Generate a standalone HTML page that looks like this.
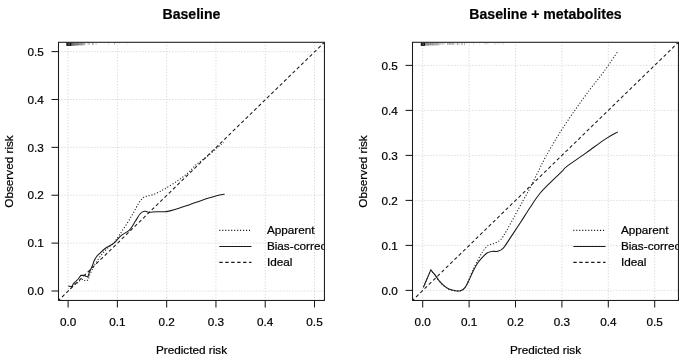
<!DOCTYPE html>
<html><head><meta charset="utf-8"><title>Calibration</title>
<style>
html,body{margin:0;padding:0;background:#fff;}
body{width:685px;height:358px;overflow:hidden;font-family:"Liberation Sans",sans-serif;}
svg{display:block;filter:grayscale(1);}
.t{font-family:"Liberation Sans",sans-serif;font-size:11.75px;fill:#000;stroke:#000;stroke-width:0.22;}
.title{font-family:"Liberation Sans",sans-serif;font-size:14.1px;font-weight:bold;fill:#000;stroke:#000;stroke-width:0.2;}
.grid{stroke:#c6c6c6;stroke-width:0.95;stroke-dasharray:0.9 2.1;fill:none;}
.box{fill:none;stroke:#1a1a1a;stroke-width:1.05;}
.tick{stroke:#1a1a1a;stroke-width:1.05;}
.ideal{stroke:#1a1a1a;stroke-width:1.06;stroke-dasharray:3.4 2.55;fill:none;}
.app{stroke:#1a1a1a;stroke-width:1.06;stroke-dasharray:1.1 1.87;fill:none;}
.bias{stroke:#1a1a1a;stroke-width:1.06;fill:none;stroke-linejoin:round;}
</style></head>
<body>
<svg width="685" height="358" viewBox="0 0 685 358">
<rect x="0" y="0" width="685" height="358" fill="#fff"/>
<line x1="68.10" y1="42.3" x2="68.10" y2="300.45" class="grid"/>
<line x1="58.5" y1="291.00" x2="324.45" y2="291.00" class="grid"/>
<line x1="117.38" y1="42.3" x2="117.38" y2="300.45" class="grid"/>
<line x1="58.5" y1="243.12" x2="324.45" y2="243.12" class="grid"/>
<line x1="166.66" y1="42.3" x2="166.66" y2="300.45" class="grid"/>
<line x1="58.5" y1="195.24" x2="324.45" y2="195.24" class="grid"/>
<line x1="215.94" y1="42.3" x2="215.94" y2="300.45" class="grid"/>
<line x1="58.5" y1="147.36" x2="324.45" y2="147.36" class="grid"/>
<line x1="265.22" y1="42.3" x2="265.22" y2="300.45" class="grid"/>
<line x1="58.5" y1="99.48" x2="324.45" y2="99.48" class="grid"/>
<line x1="314.50" y1="42.3" x2="314.50" y2="300.45" class="grid"/>
<line x1="58.5" y1="51.60" x2="324.45" y2="51.60" class="grid"/>
<clipPath id="c58"><rect x="58.5" y="42.3" width="265.95" height="258.15"/></clipPath>
<g clip-path="url(#c58)">
<line x1="58.5" y1="300.45" x2="324.45" y2="42.3" class="ideal" stroke-dashoffset="1.0"/>
<path d="M70.40,288.80 L72.50,286.50 L74.30,284.30 L77.60,282.70 L79.90,280.40 L82.70,279.30 L85.50,281.00 L88.30,279.90 L89.40,275.40 L91.00,272.10 L93.00,268.00 L95.10,263.90 L95.10,263.90 C96.02,262.57 98.57,258.47 100.60,255.90 C102.63,253.33 105.07,250.73 107.30,248.50 C109.53,246.27 111.95,244.80 114.00,242.50 C116.05,240.20 117.55,237.68 119.60,234.70 C121.65,231.72 124.07,228.13 126.30,224.60 C128.53,221.07 130.95,217.03 133.00,213.50 C135.05,209.97 136.92,206.02 138.60,203.40 C140.28,200.78 141.62,199.03 143.10,197.80 C144.58,196.57 145.92,196.50 147.50,196.00 C149.08,195.50 150.77,195.43 152.60,194.80 C154.43,194.17 156.42,193.22 158.50,192.20 C160.58,191.18 162.13,190.45 165.10,188.70 C168.07,186.95 172.57,184.27 176.30,181.70 C180.03,179.13 184.23,176.10 187.50,173.30 C190.77,170.50 192.65,167.70 195.90,164.90 C199.15,162.10 203.28,159.52 207.00,156.50 C210.72,153.48 215.40,149.12 218.20,146.80 C221.00,144.48 222.87,143.30 223.80,142.60" class="app"/>
<path d="M68.20,286.00 L71.70,286.80 L73.50,283.40 L75.60,281.70 L78.20,279.00 L80.80,275.40 L84.30,275.20 L86.00,276.30 L87.90,277.10 L89.40,272.00 L92.20,266.30 L94.00,261.00 L94.00,261.00 C94.42,260.30 95.58,258.03 96.50,256.80 C97.42,255.57 98.07,254.98 99.50,253.60 C100.93,252.22 102.68,250.23 105.10,248.50 C107.52,246.77 111.38,245.32 114.00,243.20 C116.62,241.08 118.18,238.03 120.80,235.80 C123.42,233.57 127.28,232.22 129.70,229.80 C132.12,227.38 133.58,223.93 135.30,221.30 C137.02,218.67 138.52,215.68 140.00,214.00 C141.48,212.32 142.77,211.50 144.20,211.20 C145.63,210.90 146.50,212.10 148.60,212.20 C150.70,212.30 153.82,211.90 156.80,211.80 C159.78,211.70 163.25,212.05 166.50,211.60 C169.75,211.15 172.57,210.22 176.30,209.10 C180.03,207.98 184.70,206.35 188.90,204.90 C193.10,203.45 197.55,201.72 201.50,200.40 C205.45,199.08 209.58,197.88 212.60,197.00 C215.62,196.12 217.60,195.57 219.60,195.10 C221.60,194.63 223.77,194.35 224.60,194.20" class="bias"/>
<rect x="66.30" y="42.5" width="5.30" height="3.4" fill="#000" opacity="0.93"/>
<rect x="67.90" y="43.6" width="1.85" height="0.9" fill="#fff" opacity="0.55"/>
<rect x="71.60" y="42.7" width="0.55" height="3.03" fill="#000" opacity="0.68"/>
<rect x="72.15" y="42.7" width="0.55" height="3.05" fill="#000" opacity="0.79"/>
<rect x="72.70" y="42.7" width="0.55" height="3.16" fill="#000" opacity="0.57"/>
<rect x="73.25" y="42.7" width="0.55" height="3.23" fill="#000" opacity="0.63"/>
<rect x="73.80" y="42.7" width="0.55" height="2.90" fill="#000" opacity="0.80"/>
<rect x="74.35" y="42.7" width="0.55" height="2.97" fill="#000" opacity="0.57"/>
<rect x="74.90" y="42.7" width="0.55" height="3.01" fill="#000" opacity="0.66"/>
<rect x="75.45" y="42.7" width="0.55" height="3.00" fill="#000" opacity="0.51"/>
<rect x="76.00" y="42.7" width="0.55" height="2.54" fill="#000" opacity="0.56"/>
<rect x="76.55" y="42.7" width="0.55" height="2.93" fill="#000" opacity="0.58"/>
<rect x="77.10" y="42.7" width="0.55" height="3.03" fill="#000" opacity="0.62"/>
<rect x="77.65" y="42.7" width="0.55" height="2.72" fill="#000" opacity="0.62"/>
<rect x="78.20" y="42.7" width="0.55" height="2.49" fill="#000" opacity="0.62"/>
<rect x="78.75" y="42.7" width="0.55" height="2.99" fill="#000" opacity="0.44"/>
<rect x="79.30" y="42.7" width="0.55" height="2.57" fill="#000" opacity="0.51"/>
<rect x="79.85" y="42.7" width="0.55" height="2.58" fill="#000" opacity="0.44"/>
<rect x="80.40" y="42.7" width="0.55" height="2.89" fill="#000" opacity="0.46"/>
<rect x="80.95" y="42.7" width="0.55" height="2.84" fill="#000" opacity="0.51"/>
<rect x="81.50" y="42.7" width="0.55" height="2.40" fill="#000" opacity="0.43"/>
<rect x="82.05" y="42.7" width="0.55" height="2.82" fill="#000" opacity="0.46"/>
<rect x="82.60" y="42.7" width="0.55" height="2.38" fill="#000" opacity="0.40"/>
<rect x="83.15" y="42.7" width="0.55" height="2.41" fill="#000" opacity="0.35"/>
<rect x="83.70" y="42.7" width="0.55" height="2.81" fill="#000" opacity="0.37"/>
<rect x="84.25" y="42.7" width="0.55" height="2.09" fill="#000" opacity="0.45"/>
<rect x="85.35" y="42.7" width="0.55" height="2.34" fill="#000" opacity="0.26"/>
<rect x="87.55" y="42.7" width="0.55" height="1.84" fill="#000" opacity="0.26"/>
<rect x="88.10" y="42.7" width="0.55" height="1.79" fill="#000" opacity="0.40"/>
<rect x="89.20" y="42.7" width="0.55" height="2.05" fill="#000" opacity="0.47"/>
<rect x="91.95" y="42.7" width="0.55" height="2.26" fill="#000" opacity="0.38"/>
<rect x="92.50" y="42.7" width="0.55" height="2.30" fill="#000" opacity="0.35"/>
<rect x="93.05" y="42.7" width="0.55" height="2.36" fill="#000" opacity="0.40"/>
<rect x="95.80" y="42.7" width="0.55" height="1.98" fill="#000" opacity="0.40"/>
<rect x="108.45" y="42.7" width="0.55" height="2.01" fill="#000" opacity="0.21"/>
<rect x="113.95" y="42.7" width="0.55" height="2.02" fill="#000" opacity="0.31"/>
<rect x="114.50" y="42.7" width="0.55" height="2.06" fill="#000" opacity="0.28"/>
<rect x="116.15" y="42.7" width="0.55" height="1.25" fill="#000" opacity="0.15"/>
<rect x="118.90" y="42.7" width="0.55" height="1.53" fill="#000" opacity="0.19"/>
<rect x="126.60" y="42.7" width="0.55" height="1.79" fill="#000" opacity="0.17"/>
<line x1="219.30" y1="230.4" x2="251.50" y2="230.4" class="app"/>
<line x1="219.30" y1="246.45" x2="251.50" y2="246.45" class="bias"/>
<line x1="219.30" y1="262.4" x2="251.50" y2="262.4" class="ideal"/>
<text x="266.90" y="234.15" class="t">Apparent</text>
<text x="266.90" y="250.25" class="t">Bias-corrected</text>
<text x="266.90" y="266.35" class="t">Ideal</text>
</g>
<rect x="58.5" y="42.3" width="265.95" height="258.15" class="box"/>
<line x1="68.10" y1="300.45" x2="68.10" y2="307.45" class="tick"/>
<text x="68.10" y="326.4" class="t" text-anchor="middle">0.0</text>
<line x1="51.5" y1="291.00" x2="58.5" y2="291.00" class="tick"/>
<text x="43.90" y="295.15" class="t" text-anchor="end">0.0</text>
<line x1="117.38" y1="300.45" x2="117.38" y2="307.45" class="tick"/>
<text x="117.38" y="326.4" class="t" text-anchor="middle">0.1</text>
<line x1="51.5" y1="243.12" x2="58.5" y2="243.12" class="tick"/>
<text x="43.90" y="247.27" class="t" text-anchor="end">0.1</text>
<line x1="166.66" y1="300.45" x2="166.66" y2="307.45" class="tick"/>
<text x="166.66" y="326.4" class="t" text-anchor="middle">0.2</text>
<line x1="51.5" y1="195.24" x2="58.5" y2="195.24" class="tick"/>
<text x="43.90" y="199.39" class="t" text-anchor="end">0.2</text>
<line x1="215.94" y1="300.45" x2="215.94" y2="307.45" class="tick"/>
<text x="215.94" y="326.4" class="t" text-anchor="middle">0.3</text>
<line x1="51.5" y1="147.36" x2="58.5" y2="147.36" class="tick"/>
<text x="43.90" y="151.51" class="t" text-anchor="end">0.3</text>
<line x1="265.22" y1="300.45" x2="265.22" y2="307.45" class="tick"/>
<text x="265.22" y="326.4" class="t" text-anchor="middle">0.4</text>
<line x1="51.5" y1="99.48" x2="58.5" y2="99.48" class="tick"/>
<text x="43.90" y="103.63" class="t" text-anchor="end">0.4</text>
<line x1="314.50" y1="300.45" x2="314.50" y2="307.45" class="tick"/>
<text x="314.50" y="326.4" class="t" text-anchor="middle">0.5</text>
<line x1="51.5" y1="51.60" x2="58.5" y2="51.60" class="tick"/>
<text x="43.90" y="55.75" class="t" text-anchor="end">0.5</text>
<text x="191.47" y="354.4" class="t" text-anchor="middle">Predicted risk</text>
<text transform="translate(13.30,171.5) rotate(-90)" class="t" text-anchor="middle">Observed risk</text>
<text x="191.47" y="18.7" class="title" text-anchor="middle">Baseline</text>
<line x1="422.70" y1="42.3" x2="422.70" y2="300.45" class="grid"/>
<line x1="412.5" y1="290.40" x2="678.45" y2="290.40" class="grid"/>
<line x1="469.10" y1="42.3" x2="469.10" y2="300.45" class="grid"/>
<line x1="412.5" y1="245.40" x2="678.45" y2="245.40" class="grid"/>
<line x1="515.50" y1="42.3" x2="515.50" y2="300.45" class="grid"/>
<line x1="412.5" y1="200.40" x2="678.45" y2="200.40" class="grid"/>
<line x1="561.90" y1="42.3" x2="561.90" y2="300.45" class="grid"/>
<line x1="412.5" y1="155.40" x2="678.45" y2="155.40" class="grid"/>
<line x1="608.30" y1="42.3" x2="608.30" y2="300.45" class="grid"/>
<line x1="412.5" y1="110.40" x2="678.45" y2="110.40" class="grid"/>
<line x1="654.70" y1="42.3" x2="654.70" y2="300.45" class="grid"/>
<line x1="412.5" y1="65.40" x2="678.45" y2="65.40" class="grid"/>
<clipPath id="c412"><rect x="412.5" y="42.3" width="265.95000000000005" height="258.15"/></clipPath>
<g clip-path="url(#c412)">
<line x1="412.5" y1="300.45" x2="678.45" y2="42.3" class="ideal" stroke-dashoffset="1.0"/>
<path d="M423.40,287.30 L427.10,278.80 L430.80,270.20 L430.80,270.20 C431.43,270.93 433.27,272.88 434.60,274.60 C435.93,276.32 437.25,278.63 438.80,280.50 C440.35,282.37 442.22,284.35 443.90,285.80 C445.58,287.25 446.95,288.35 448.90,289.20 C450.85,290.05 453.65,290.65 455.60,290.90 C457.55,291.15 459.07,291.25 460.60,290.70 C462.13,290.15 463.53,289.18 464.80,287.60 C466.07,286.02 466.93,283.97 468.20,281.20 C469.47,278.43 470.87,274.37 472.40,271.00 C473.93,267.63 475.70,264.20 477.40,261.00 C479.10,257.80 480.80,254.40 482.60,251.80 C484.40,249.20 486.12,246.87 488.20,245.40 C490.28,243.93 493.02,243.97 495.10,243.00 C497.18,242.03 498.83,241.57 500.70,239.60 C502.57,237.63 503.97,235.15 506.30,231.20 C508.63,227.25 511.90,221.02 514.70,215.90 C517.50,210.78 520.53,205.17 523.10,200.50 C525.67,195.83 527.78,192.32 530.10,187.90 C532.42,183.48 534.45,179.10 537.00,174.00 C539.55,168.90 541.72,163.98 545.40,157.30 C549.08,150.62 554.20,141.72 559.10,133.90 C564.00,126.08 569.58,117.90 574.80,110.40 C580.02,102.90 585.52,95.42 590.40,88.90 C595.28,82.38 599.53,77.55 604.10,71.30 C608.67,65.05 615.52,54.72 617.80,51.40" class="app"/>
<path d="M423.40,287.30 L427.10,278.60 L430.80,269.90 L430.80,269.90 C431.43,270.65 433.27,272.67 434.60,274.40 C435.93,276.13 437.25,278.43 438.80,280.30 C440.35,282.17 442.22,284.15 443.90,285.60 C445.58,287.05 446.95,288.15 448.90,289.00 C450.85,289.85 453.65,290.42 455.60,290.70 C457.55,290.98 459.07,291.18 460.60,290.70 C462.13,290.22 463.53,289.27 464.80,287.80 C466.07,286.33 466.93,284.42 468.20,281.90 C469.47,279.38 470.87,275.77 472.40,272.70 C473.93,269.63 475.73,266.05 477.40,263.50 C479.07,260.95 480.80,259.15 482.40,257.40 C484.00,255.65 485.48,254.00 487.00,253.00 C488.52,252.00 489.68,251.70 491.50,251.40 C493.32,251.10 495.90,251.80 497.90,251.20 C499.90,250.60 501.17,250.43 503.50,247.80 C505.83,245.17 509.10,239.57 511.90,235.40 C514.70,231.23 517.27,227.45 520.30,222.80 C523.33,218.15 526.85,212.38 530.10,207.50 C533.35,202.62 536.32,197.78 539.80,193.50 C543.28,189.22 547.27,185.52 551.00,181.80 C554.73,178.08 559.55,173.78 562.20,171.20 C564.85,168.62 562.85,169.40 566.90,166.30 C570.95,163.20 579.98,157.22 586.50,152.60 C593.02,147.98 600.78,142.05 606.00,138.60 C611.22,135.15 615.83,133.02 617.80,131.90" class="bias"/>
<rect x="420.80" y="42.5" width="4.20" height="3.4" fill="#000" opacity="0.93"/>
<rect x="422.40" y="43.6" width="1.47" height="0.9" fill="#fff" opacity="0.55"/>
<rect x="425.00" y="42.7" width="0.55" height="2.79" fill="#000" opacity="0.54"/>
<rect x="425.55" y="42.7" width="0.55" height="3.00" fill="#000" opacity="0.46"/>
<rect x="426.10" y="42.7" width="0.55" height="2.97" fill="#000" opacity="0.45"/>
<rect x="426.65" y="42.7" width="0.55" height="2.69" fill="#000" opacity="0.53"/>
<rect x="427.20" y="42.7" width="0.55" height="3.13" fill="#000" opacity="0.52"/>
<rect x="427.75" y="42.7" width="0.55" height="2.99" fill="#000" opacity="0.46"/>
<rect x="428.30" y="42.7" width="0.55" height="2.83" fill="#000" opacity="0.53"/>
<rect x="428.85" y="42.7" width="0.55" height="3.09" fill="#000" opacity="0.40"/>
<rect x="429.40" y="42.7" width="0.55" height="2.63" fill="#000" opacity="0.41"/>
<rect x="429.95" y="42.7" width="0.55" height="2.65" fill="#000" opacity="0.54"/>
<rect x="430.50" y="42.7" width="0.55" height="2.75" fill="#000" opacity="0.49"/>
<rect x="431.05" y="42.7" width="0.55" height="2.55" fill="#000" opacity="0.36"/>
<rect x="431.60" y="42.7" width="0.55" height="2.75" fill="#000" opacity="0.47"/>
<rect x="432.15" y="42.7" width="0.55" height="2.75" fill="#000" opacity="0.44"/>
<rect x="432.70" y="42.7" width="0.55" height="2.88" fill="#000" opacity="0.47"/>
<rect x="433.25" y="42.7" width="0.55" height="2.76" fill="#000" opacity="0.41"/>
<rect x="433.80" y="42.7" width="0.55" height="2.60" fill="#000" opacity="0.43"/>
<rect x="434.35" y="42.7" width="0.55" height="2.66" fill="#000" opacity="0.31"/>
<rect x="434.90" y="42.7" width="0.55" height="2.68" fill="#000" opacity="0.31"/>
<rect x="435.45" y="42.7" width="0.55" height="2.83" fill="#000" opacity="0.38"/>
<rect x="436.00" y="42.7" width="0.55" height="2.54" fill="#000" opacity="0.40"/>
<rect x="436.55" y="42.7" width="0.55" height="2.69" fill="#000" opacity="0.34"/>
<rect x="437.10" y="42.7" width="0.55" height="2.89" fill="#000" opacity="0.37"/>
<rect x="437.65" y="42.7" width="0.55" height="2.34" fill="#000" opacity="0.33"/>
<rect x="438.20" y="42.7" width="0.55" height="2.88" fill="#000" opacity="0.31"/>
<rect x="438.75" y="42.7" width="0.55" height="2.50" fill="#000" opacity="0.25"/>
<rect x="439.30" y="42.7" width="0.55" height="2.53" fill="#000" opacity="0.21"/>
<rect x="439.85" y="42.7" width="0.55" height="2.27" fill="#000" opacity="0.21"/>
<rect x="440.40" y="42.7" width="0.55" height="2.37" fill="#000" opacity="0.20"/>
<rect x="440.95" y="42.7" width="0.55" height="2.25" fill="#000" opacity="0.27"/>
<rect x="442.05" y="42.7" width="0.55" height="1.93" fill="#000" opacity="0.47"/>
<rect x="443.15" y="42.7" width="0.55" height="1.81" fill="#000" opacity="0.29"/>
<rect x="444.25" y="42.7" width="0.55" height="1.60" fill="#000" opacity="0.32"/>
<rect x="447.00" y="42.7" width="0.55" height="2.08" fill="#000" opacity="0.35"/>
<rect x="447.55" y="42.7" width="0.55" height="1.67" fill="#000" opacity="0.41"/>
<rect x="448.10" y="42.7" width="0.55" height="1.79" fill="#000" opacity="0.30"/>
<rect x="448.65" y="42.7" width="0.55" height="1.60" fill="#000" opacity="0.26"/>
<rect x="449.20" y="42.7" width="0.55" height="2.04" fill="#000" opacity="0.28"/>
<rect x="449.75" y="42.7" width="0.55" height="2.34" fill="#000" opacity="0.47"/>
<rect x="450.30" y="42.7" width="0.55" height="2.02" fill="#000" opacity="0.31"/>
<rect x="451.40" y="42.7" width="0.55" height="2.18" fill="#000" opacity="0.37"/>
<rect x="451.95" y="42.7" width="0.55" height="2.01" fill="#000" opacity="0.28"/>
<rect x="452.50" y="42.7" width="0.55" height="1.79" fill="#000" opacity="0.46"/>
<rect x="453.05" y="42.7" width="0.55" height="2.23" fill="#000" opacity="0.49"/>
<rect x="454.70" y="42.7" width="0.55" height="2.04" fill="#000" opacity="0.32"/>
<rect x="456.90" y="42.7" width="0.55" height="2.49" fill="#000" opacity="0.45"/>
<rect x="457.45" y="42.7" width="0.55" height="2.03" fill="#000" opacity="0.38"/>
<rect x="458.00" y="42.7" width="0.55" height="1.94" fill="#000" opacity="0.26"/>
<rect x="459.65" y="42.7" width="0.55" height="1.86" fill="#000" opacity="0.34"/>
<rect x="461.30" y="42.7" width="0.55" height="2.56" fill="#000" opacity="0.41"/>
<rect x="462.40" y="42.7" width="0.55" height="2.17" fill="#000" opacity="0.44"/>
<rect x="464.05" y="42.7" width="0.55" height="2.47" fill="#000" opacity="0.49"/>
<rect x="466.25" y="42.7" width="0.55" height="1.33" fill="#000" opacity="0.26"/>
<rect x="469.00" y="42.7" width="0.55" height="1.62" fill="#000" opacity="0.20"/>
<rect x="473.40" y="42.7" width="0.55" height="1.98" fill="#000" opacity="0.26"/>
<rect x="478.90" y="42.7" width="0.55" height="1.44" fill="#000" opacity="0.16"/>
<rect x="484.40" y="42.7" width="0.55" height="1.71" fill="#000" opacity="0.27"/>
<rect x="485.50" y="42.7" width="0.55" height="1.47" fill="#000" opacity="0.17"/>
<rect x="486.05" y="42.7" width="0.55" height="1.47" fill="#000" opacity="0.31"/>
<rect x="487.70" y="42.7" width="0.55" height="1.90" fill="#000" opacity="0.26"/>
<rect x="493.75" y="42.7" width="0.55" height="1.45" fill="#000" opacity="0.15"/>
<rect x="494.85" y="42.7" width="0.55" height="2.13" fill="#000" opacity="0.24"/>
<rect x="497.60" y="42.7" width="0.55" height="1.55" fill="#000" opacity="0.23"/>
<rect x="498.70" y="42.7" width="0.55" height="1.36" fill="#000" opacity="0.20"/>
<rect x="502.00" y="42.7" width="0.55" height="1.56" fill="#000" opacity="0.21"/>
<rect x="503.10" y="42.7" width="0.55" height="1.70" fill="#000" opacity="0.19"/>
<line x1="573.30" y1="230.4" x2="605.50" y2="230.4" class="app"/>
<line x1="573.30" y1="246.45" x2="605.50" y2="246.45" class="bias"/>
<line x1="573.30" y1="262.4" x2="605.50" y2="262.4" class="ideal"/>
<text x="620.90" y="234.15" class="t">Apparent</text>
<text x="620.90" y="250.25" class="t">Bias-corrected</text>
<text x="620.90" y="266.35" class="t">Ideal</text>
</g>
<rect x="412.5" y="42.3" width="265.95000000000005" height="258.15" class="box"/>
<line x1="422.70" y1="300.45" x2="422.70" y2="307.45" class="tick"/>
<text x="422.70" y="326.4" class="t" text-anchor="middle">0.0</text>
<line x1="405.5" y1="290.40" x2="412.5" y2="290.40" class="tick"/>
<text x="397.90" y="294.55" class="t" text-anchor="end">0.0</text>
<line x1="469.10" y1="300.45" x2="469.10" y2="307.45" class="tick"/>
<text x="469.10" y="326.4" class="t" text-anchor="middle">0.1</text>
<line x1="405.5" y1="245.40" x2="412.5" y2="245.40" class="tick"/>
<text x="397.90" y="249.55" class="t" text-anchor="end">0.1</text>
<line x1="515.50" y1="300.45" x2="515.50" y2="307.45" class="tick"/>
<text x="515.50" y="326.4" class="t" text-anchor="middle">0.2</text>
<line x1="405.5" y1="200.40" x2="412.5" y2="200.40" class="tick"/>
<text x="397.90" y="204.55" class="t" text-anchor="end">0.2</text>
<line x1="561.90" y1="300.45" x2="561.90" y2="307.45" class="tick"/>
<text x="561.90" y="326.4" class="t" text-anchor="middle">0.3</text>
<line x1="405.5" y1="155.40" x2="412.5" y2="155.40" class="tick"/>
<text x="397.90" y="159.55" class="t" text-anchor="end">0.3</text>
<line x1="608.30" y1="300.45" x2="608.30" y2="307.45" class="tick"/>
<text x="608.30" y="326.4" class="t" text-anchor="middle">0.4</text>
<line x1="405.5" y1="110.40" x2="412.5" y2="110.40" class="tick"/>
<text x="397.90" y="114.55" class="t" text-anchor="end">0.4</text>
<line x1="654.70" y1="300.45" x2="654.70" y2="307.45" class="tick"/>
<text x="654.70" y="326.4" class="t" text-anchor="middle">0.5</text>
<line x1="405.5" y1="65.40" x2="412.5" y2="65.40" class="tick"/>
<text x="397.90" y="69.55" class="t" text-anchor="end">0.5</text>
<text x="545.48" y="354.4" class="t" text-anchor="middle">Predicted risk</text>
<text transform="translate(367.30,171.5) rotate(-90)" class="t" text-anchor="middle">Observed risk</text>
<text x="545.48" y="18.7" class="title" text-anchor="middle">Baseline + metabolites</text>
</svg>
</body></html>
